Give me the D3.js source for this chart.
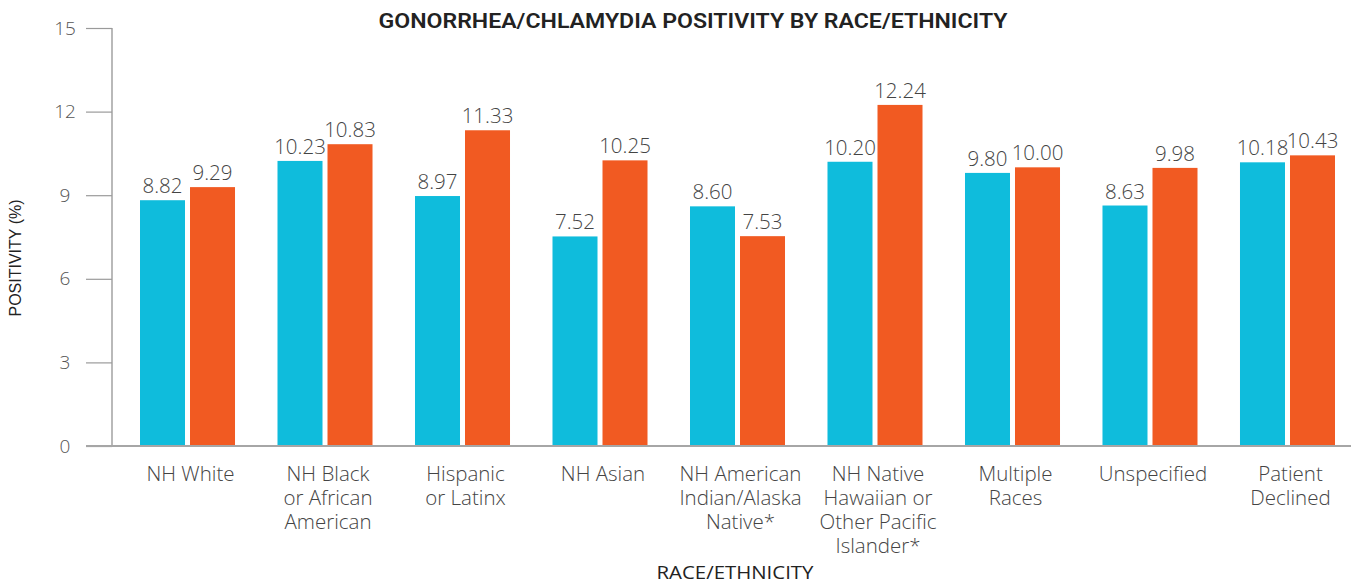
<!DOCTYPE html>
<html>
<head>
<meta charset="utf-8">
<script src="https://cdn.jsdelivr.net/npm/d3@7"></script>
<style>
  html, body { margin: 0; padding: 0; background: #fff; }
  svg { display: block; }
  text { font-family: "Open Sans", "DejaVu Sans", sans-serif; }
</style>
</head>
<body>
<svg id="chart" width="1351" height="585"></svg>
<script>
// Categories (multi-line labels) and the two series of positivity values
const categories = [
  ["NH White"],
  ["NH Black", "or African", "American"],
  ["Hispanic", "or Latinx"],
  ["NH Asian"],
  ["NH American", "Indian/Alaska", "Native*"],
  ["NH Native", "Hawaiian or", "Other Pacific", "Islander*"],
  ["Multiple", "Races"],
  ["Unspecified"],
  ["Patient", "Declined"]
];
const seriesA = [8.82, 10.23, 8.97, 7.52, 8.60, 10.20, 9.80, 8.63, 10.18];
const seriesB = [9.29, 10.83, 11.33, 10.25, 7.53, 12.24, 10.00, 9.98, 10.43];
const yTicks = [0, 3, 6, 9, 12, 15];

const colors = ["#0fbcdc", "#f15a22"];
const textColor = "#444";

const svg = d3.select("#chart");

const plotLeft = 112, plotRight = 1351, plotTop = 28, plotBottom = 446;

const x = d3.scaleBand()
  .domain(d3.range(categories.length))
  .range([140, 1335])
  .paddingInner(0.309)
  .paddingOuter(0);

const sub = d3.scaleBand()
  .domain([0, 1])
  .range([0, x.bandwidth()])
  .paddingInner(0.1);

const y = d3.scaleLinear().domain([0, 15]).range([plotBottom, plotTop]);

// Y axis: ticks to the left, tick marks crossing the axis line
const yAxis = d3.axisLeft(y)
  .tickValues(yTicks)
  .tickSize(26)
  .tickPadding(14)
  .tickFormat(d3.format("d"));

const gy = svg.append("g")
  .attr("transform", `translate(${plotLeft},0)`)
  .call(yAxis);
gy.select(".domain").attr("stroke", "#8a8a8a").attr("stroke-width", 1.2)
  .attr("d", `M0,${plotTop}V${plotBottom}`);
gy.selectAll(".tick line").attr("stroke", "#9a9a9a").attr("stroke-width", 1.2);
gy.selectAll(".tick text")
  .attr("fill", "#555")
  .style("font-size", "19px")
  .style("font-family", "'Open Sans', sans-serif")
  .style("font-weight", 300)
  .attr("text-anchor", "middle")
  .attr("dx", "-7")
  .attr("dy", "0.32em");

// Bars
const groups = svg.append("g").selectAll("g")
  .data(categories.map((c, i) => ({ i, values: [seriesA[i], seriesB[i]] })))
  .join("g")
  .attr("transform", d => `translate(${x(d.i)},0)`);

groups.selectAll("rect")
  .data(d => d.values.map((v, k) => ({ v, k })))
  .join("rect")
  .attr("x", d => sub(d.k))
  .attr("width", sub.bandwidth())
  .attr("y", d => y(d.v))
  .attr("height", d => y(0) - y(d.v))
  .attr("fill", d => colors[d.k]);

// Value labels
groups.selectAll("text.val")
  .data(d => d.values.map((v, k) => ({ v, k })))
  .join("text")
  .attr("class", "val")
  .attr("x", d => sub(d.k) + sub.bandwidth() / 2)
  .attr("y", d => y(d.v) - 7)
  .attr("text-anchor", "middle")
  .attr("fill", textColor)
  .style("font-size", "20.5px")
  .style("font-weight", 300)
  .text(d => d3.format(".2f")(d.v));

// Baseline
svg.append("line")
  .attr("x1", 86).attr("x2", plotRight)
  .attr("y1", plotBottom).attr("y2", plotBottom)
  .attr("stroke", "#a6a6a6").attr("stroke-width", 1.8);

// Category labels
const catG = svg.append("g");
categories.forEach((lines, i) => {
  const t = catG.append("text")
    .attr("text-anchor", "middle")
    .attr("fill", textColor)
    .style("font-size", "20.5px")
    .style("font-weight", 300)
    .attr("transform", `translate(${x(i) + x.bandwidth() / 2 + 3},481)`);
  lines.forEach((line, j) => {
    t.append("tspan").attr("x", 0).attr("y", j * 24).text(line);
  });
});

// Title
svg.append("text")
  .attr("x", 693).attr("y", 28)
  .attr("text-anchor", "middle")
  .attr("fill", "#222")
  .style("font-family", "'Roboto', sans-serif")
  .style("font-size", "19.5px")
  .style("font-weight", 600)
  .attr("textLength", 629)
  .attr("lengthAdjust", "spacingAndGlyphs")
  .text("GONORRHEA/CHLAMYDIA POSITIVITY BY RACE/ETHNICITY");

// Axis titles
svg.append("text")
  .attr("transform", "translate(21,258) rotate(-90)")
  .attr("text-anchor", "middle")
  .attr("fill", "#222")
  .style("font-family", "'Liberation Sans', Arial, sans-serif")
  .style("font-size", "16px")
  .text("POSITIVITY (%)");

svg.append("text")
  .attr("x", 735).attr("y", 579)
  .attr("text-anchor", "middle")
  .attr("fill", "#222")
  .style("font-size", "18.5px")
  .style("font-weight", 400)
  .attr("textLength", 157)
  .attr("lengthAdjust", "spacingAndGlyphs")
  .text("RACE/ETHNICITY");
</script>
</body>
</html>
